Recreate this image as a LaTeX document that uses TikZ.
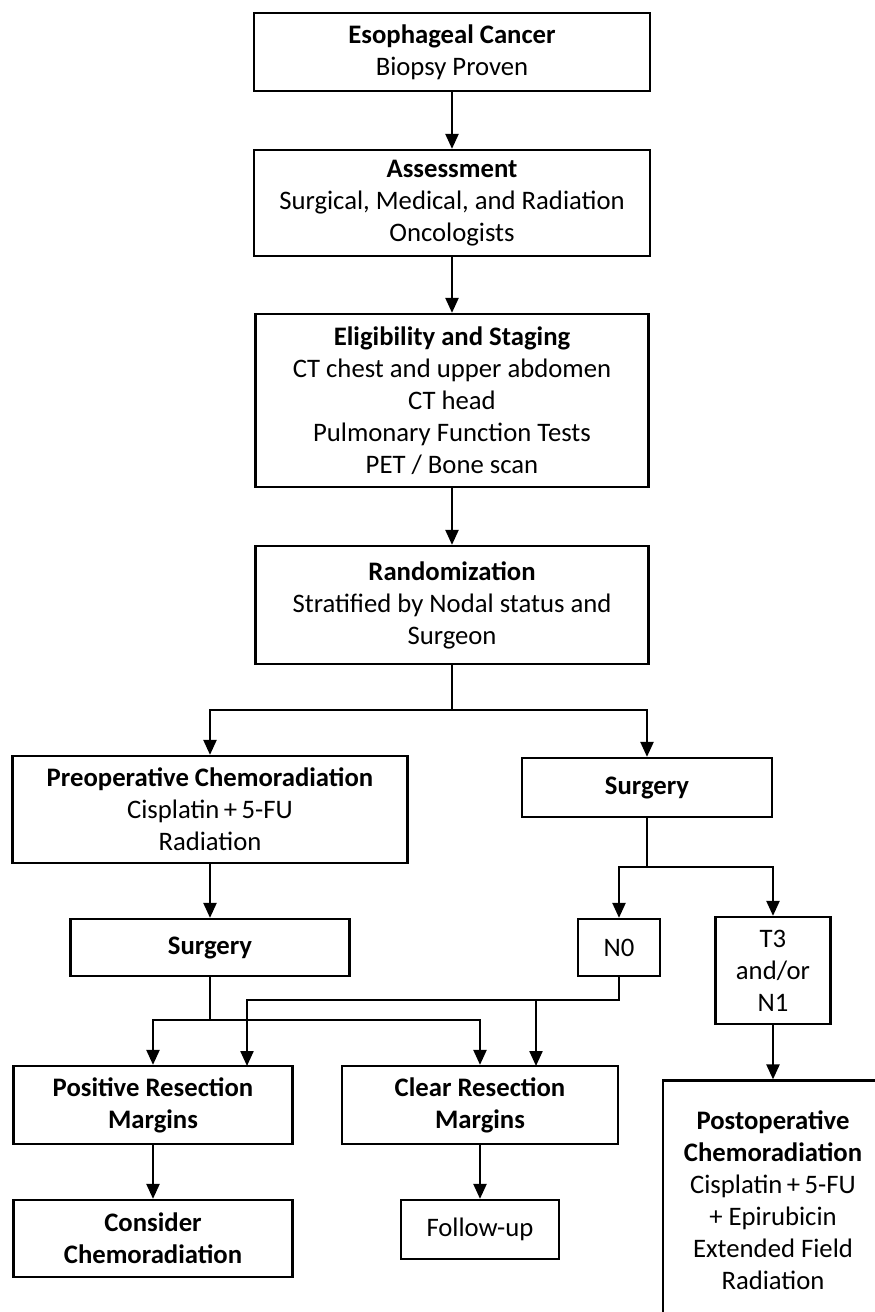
\documentclass[tikz,border=0pt]{standalone}
\usepackage{fontspec}
\setmainfont{Carlito}
\usetikzlibrary{arrows.meta}

\begin{document}
\begin{tikzpicture}[x=0.02cm,y=-0.02cm,
  box/.style={draw=black,line width=1.3pt,align=center,inner sep=0pt,font=\fontsize{15.2pt}{18.2pt}\selectfont},
  arr/.style={line width=1.3pt,-{Triangle[width=0.26cm,length=0.3cm]}}]
\useasboundingbox (0,0) rectangle (875,1312);
\clip (0,0) rectangle (875,1312);

\node[box,minimum width=7.92cm,minimum height=1.56cm] (esoph) at (452,52) {\textbf{Esophageal Cancer}\\Biopsy Proven};
\node[box,minimum width=7.92cm,minimum height=2.12cm] (assess) at (452,203) {\textbf{Assessment}\\Surgical, Medical, and Radiation\\Oncologists};
\node[box,minimum width=7.86cm,minimum height=3.46cm] (elig) at (452,400.5) {\textbf{Eligibility and Staging}\\CT chest and upper abdomen\\CT head\\Pulmonary Function Tests\\PET / Bone scan};
\node[box,minimum width=7.86cm,minimum height=2.36cm] (random) at (452,605) {\textbf{Randomization}\\Stratified by Nodal status and\\Surgeon};

\node[box,minimum width=7.9cm,minimum height=2.14cm] (preop) at (210,809.5) {\textbf{Preoperative Chemoradiation}\\Cisplatin\,+\,5-FU\\Radiation};
\node[box,minimum width=5cm,minimum height=1.18cm] (surgR) at (647,787.5) {\textbf{Surgery}};
\node[box,minimum width=5.58cm,minimum height=1.14cm] (surgL) at (210,947.5) {\textbf{Surgery}};
\node[box,minimum width=1.64cm,minimum height=1.14cm] (n0) at (619,947.5) {N0};
\node[box,minimum width=2.3cm,minimum height=2.14cm] (t3) at (773,970.5) {T3\\and/or\\N1};

\node[box,minimum width=5.58cm,minimum height=1.56cm] (pos) at (153,1105) {\textbf{Positive Resection}\\\textbf{Margins}};
\node[box,minimum width=5.52cm,minimum height=1.56cm] (clear) at (480,1105) {\textbf{Clear Resection}\\\textbf{Margins}};
\node[box,minimum width=5.58cm,minimum height=1.54cm] (consider) at (153,1238.5) {\textbf{Consider}\\\textbf{Chemoradiation}};
\node[box,minimum width=3.16cm,minimum height=1.18cm] (follow) at (480,1229.5) {Follow-up};
\node[box,minimum width=4.4cm,minimum height=4.78cm] (postop) at (773,1200) {\textbf{Postoperative}\\\textbf{Chemoradiation}\\Cisplatin\,+\,5-FU\\+ Epirubicin\\Extended Field\\Radiation};

\coordinate (split1) at (452,710);
\coordinate (split2) at (647,867);
\coordinate (split3) at (210,1020);
\coordinate (split4) at (619,1000);
\coordinate (posin) at (247,1066);
\coordinate (clearin) at (536,1066);

\draw[arr] (esoph) -- (assess);
\draw[arr] (assess) -- (elig);
\draw[arr] (elig) -- (random);
\draw[arr] (random.south) -- (split1) -| (preop.north);
\draw[arr] (random.south) -- (split1) -| (surgR.north);
\draw[arr] (preop) -- (surgL);
\draw[arr] (surgR.south) -- (split2) -| (n0.north);
\draw[arr] (surgR.south) -- (split2) -| (t3.north);
\draw[arr] (surgL.south) -- (split3) -| (pos.north);
\draw[arr] (surgL.south) -- (split3) -| (clear.north);
\draw[arr] (n0.south) -- (split4) -| (posin);
\draw[arr] (n0.south) -- (split4) -| (clearin);
\draw[arr] (t3) -- (postop);
\draw[arr] (pos) -- (consider);
\draw[arr] (clear) -- (follow);

\end{tikzpicture}
\end{document}
